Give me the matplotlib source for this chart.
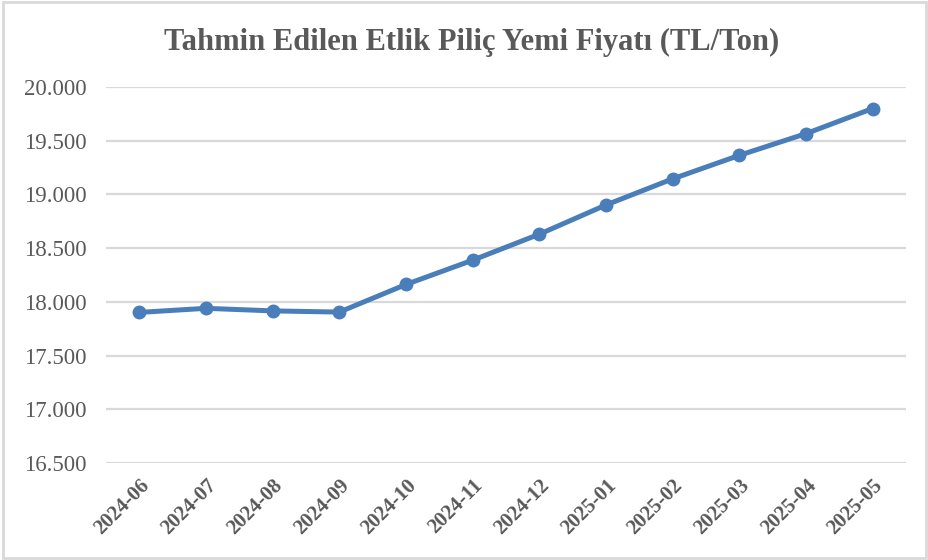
import matplotlib.pyplot as plt
from matplotlib.patches import Rectangle
from matplotlib.ticker import FuncFormatter

months = ["2024-06", "2024-07", "2024-08", "2024-09", "2024-10", "2024-11",
          "2024-12", "2025-01", "2025-02", "2025-03", "2025-04", "2025-05"]
prices = [17902, 17940, 17916, 17905, 18162, 18388,
          18630, 18902, 19145, 19364, 19566, 19800]
yticks = [16500, 17000, 17500, 18000, 18500, 19000, 19500, 20000]

TEXT = "#595959"
BLUE = "#4a7ebb"


def tl_format(v, pos):
    # Turkish thousands separator
    return f"{int(v):,}".replace(",", ".")


def main() -> None:
    plt.rcParams['font.family'] = ['Liberation Serif', 'DejaVu Serif']
    fig = plt.figure(figsize=(9.29, 5.6), dpi=100)
    ax = fig.add_axes([0.1141, 0.1732, 0.8611, 0.6714])

    x = list(range(len(months)))
    ax.plot(x, prices, color=BLUE, linewidth=3.6, marker='o',
            markersize=9, solid_capstyle='round', zorder=3)

    ax.set_xlim(-0.5, len(months) - 0.5)
    ax.set_ylim(16500, 20000)
    ax.set_yticks(yticks)
    ax.yaxis.set_major_formatter(FuncFormatter(tl_format))
    ax.grid(axis='y', color='#d9d9d9', linewidth=1.6)
    ax.set_axisbelow(True)
    for side in ax.spines.values():
        side.set_visible(False)

    ax.set_xticks(x)
    ax.set_xticklabels(months, rotation=45, ha='right', rotation_mode='anchor',
                       fontsize=15, fontweight='bold', color=TEXT)
    ax.tick_params(axis='x', length=0, pad=9)
    ax.tick_params(axis='y', length=0, pad=14, labelsize=16.5, labelcolor=TEXT)

    fig.text(0.508, 0.925, "Tahmin Edilen Etlik Piliç Yemi Fiyatı (TL/Ton)",
             ha='center', va='center', fontsize=22, fontweight='bold', color=TEXT)

    # light frame round the whole chart
    fig.patches.append(Rectangle((0.003, 0.004), 0.994, 0.993, transform=fig.transFigure,
                                 fill=False, edgecolor='#d9d9d9', linewidth=2))

    plt.savefig("out.png", dpi=100)


if __name__ == '__main__':
    main()
